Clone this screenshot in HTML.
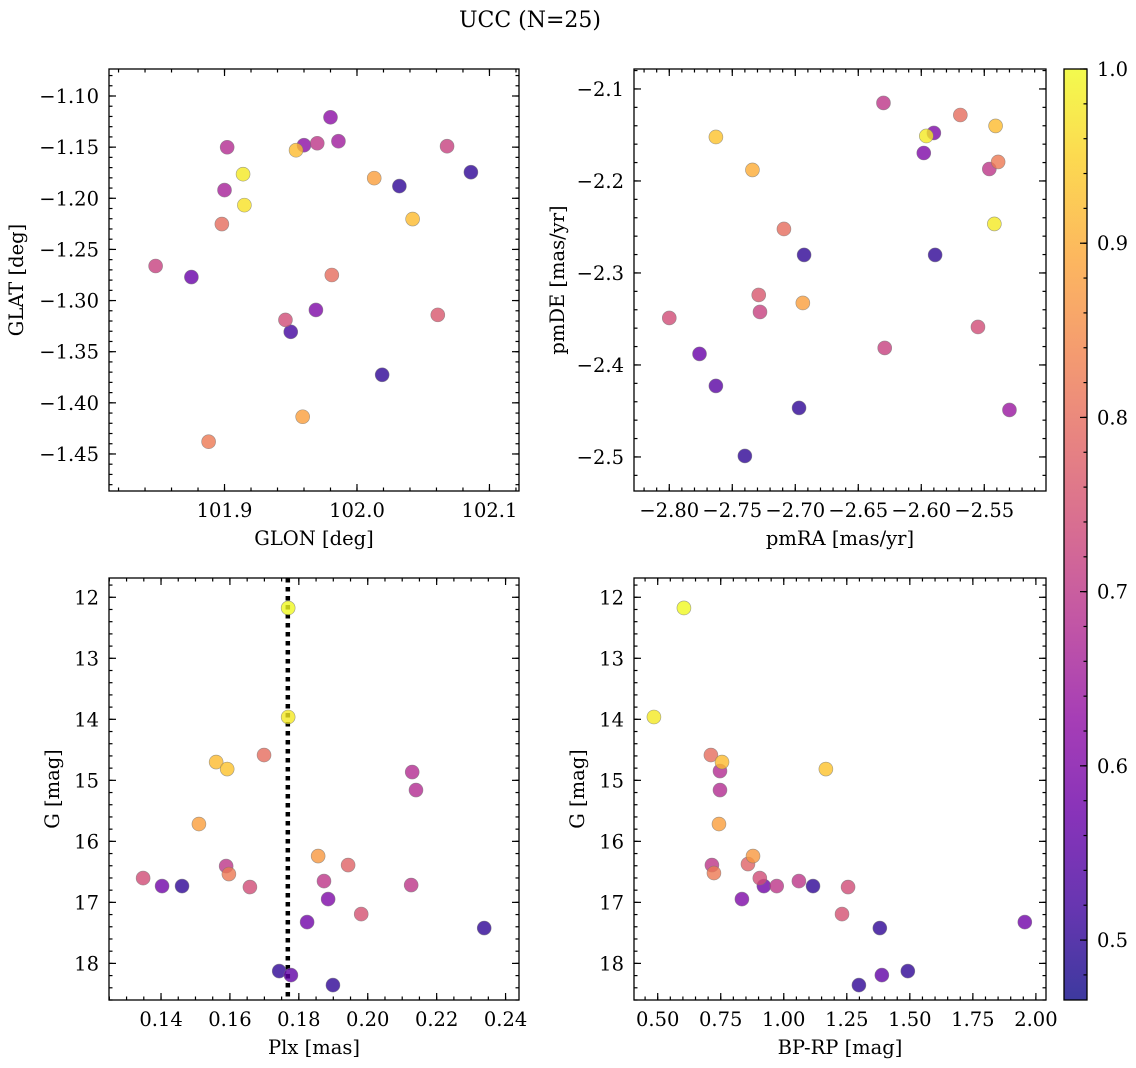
<!DOCTYPE html>
<html><head><meta charset="utf-8">
<style>
html,body{margin:0;padding:0;background:#fff;}
svg{display:block;font-family:"DejaVu Serif","Liberation Serif",serif;}
</style></head>
<body>
<svg id="fig" width="1136" height="1068" viewBox="0 0 1136 1068" xmlns="http://www.w3.org/2000/svg">
<text x="530" y="27" font-size="22" text-anchor="middle">UCC (N=25)</text>
</svg>
<script>
// ---- data ----
const glon = [101.980,101.960,101.954,101.970,101.986,101.902,102.068,101.914,101.900,101.915,102.013,102.032,102.086,101.898,102.042,101.848,101.875,101.981,101.946,101.969,101.950,102.061,102.019,101.959,101.888];
const glat = [-1.1208,-1.1481,-1.1530,-1.1462,-1.1442,-1.1501,-1.1491,-1.1764,-1.1920,-1.2067,-1.1803,-1.1881,-1.1745,-1.2252,-1.2203,-1.2662,-1.2770,-1.2750,-1.3189,-1.3092,-1.3306,-1.3140,-1.3726,-1.4136,-1.4380];
const probPos = [0.62,0.62,0.92,0.70,0.65,0.68,0.72,0.98,0.66,0.97,0.88,0.50,0.50,0.80,0.92,0.72,0.57,0.80,0.74,0.60,0.52,0.76,0.50,0.88,0.82];

const pmra = [-2.630,-2.763,-2.596,-2.590,-2.569,-2.541,-2.539,-2.598,-2.546,-2.734,-2.542,-2.709,-2.693,-2.589,-2.729,-2.694,-2.728,-2.800,-2.555,-2.629,-2.776,-2.763,-2.697,-2.530,-2.740];
const pmde = [-2.1152,-2.1522,-2.1511,-2.1478,-2.1283,-2.1402,-2.1793,-2.1696,-2.1870,-2.1880,-2.2467,-2.2522,-2.2804,-2.2804,-2.3239,-2.3326,-2.3424,-2.3489,-2.3587,-2.3815,-2.3880,-2.4228,-2.4467,-2.4489,-2.4989];
const probPm = [0.70,0.93,0.98,0.60,0.80,0.92,0.82,0.60,0.70,0.90,0.98,0.80,0.50,0.50,0.76,0.88,0.72,0.74,0.74,0.72,0.57,0.55,0.50,0.64,0.50];

const plx = [0.1769,0.1769,0.1560,0.1592,0.1699,0.2129,0.2140,0.1510,0.1856,0.1943,0.1589,0.1597,0.1873,0.1348,0.1403,0.1461,0.1658,0.2126,0.1885,0.1981,0.1824,0.2338,0.1743,0.1777,0.1899];
const gPlx = [12.175,13.962,14.700,14.815,14.585,14.864,15.159,15.716,16.241,16.388,16.405,16.536,16.651,16.602,16.733,16.733,16.749,16.716,16.946,17.192,17.323,17.421,18.126,18.192,18.356];
const probPlx = [1.00,0.98,0.92,0.93,0.80,0.68,0.68,0.88,0.87,0.78,0.70,0.82,0.70,0.74,0.58,0.50,0.74,0.70,0.60,0.75,0.58,0.50,0.50,0.56,0.50];
const plxRef = 0.1768;

const bprp = [0.604,0.485,0.711,0.755,0.747,1.167,0.747,0.743,0.715,0.878,0.858,0.723,0.905,0.921,0.972,1.060,1.116,1.255,0.834,1.231,1.956,1.381,1.492,1.389,1.298];
const gCmd = [12.175,13.962,14.585,14.700,14.848,14.815,15.159,15.716,16.388,16.241,16.372,16.519,16.602,16.733,16.733,16.651,16.733,16.749,16.946,17.192,17.323,17.421,18.126,18.192,18.356];
const probCmd = [1.00,0.98,0.80,0.92,0.68,0.93,0.68,0.88,0.70,0.87,0.78,0.82,0.74,0.58,0.70,0.70,0.50,0.74,0.60,0.75,0.58,0.50,0.50,0.56,0.50];

const cbTicks = [0.5,0.6,0.7,0.8,0.9,1.0];
const vmin = 0.4656, vmax = 1.0;

// ---- helpers ----
const NS = "http://www.w3.org/2000/svg";
const svg = document.getElementById('fig');
const FS = 19.5;
function mk(tag, attrs, parent){ const e=document.createElementNS(NS,tag); for(const k in attrs) e.setAttribute(k,attrs[k]); (parent||svg).appendChild(e); return e; }
const stops=[[13,8,135],[65,4,157],[106,0,168],[143,13,164],[177,42,144],[204,71,120],[225,100,98],[242,132,75],[252,166,54],[252,206,37],[240,249,33]];
function plasma(t){ t=Math.max(0,Math.min(1,t)); const s=t*10, i=Math.min(9,Math.floor(s)), f=s-i; const a=stops[i], b=stops[i+1]; return 'rgb('+a.map((v,k)=>Math.round(v+(b[k]-v)*f)).join(',')+')'; }
function col(p){ return plasma((p-vmin)/(vmax-vmin)); }
function fmt(v,d){ const s=Math.abs(v).toFixed(d); return (v<-1e-9?'\u2212':'')+s; }

function panel(cfg){
  const {name,x0,y0,w,h,xmin,xmax,ymin,ymax,yinv,xmaj,xmin_step,ymaj,ymin_step,xdec,ydec,xlabel,ylabel,xs,ys,ps,ylabx} = cfg;
  const g = mk('g',{});
  
  
  const sx = v => x0 + (v-xmin)/(xmax-xmin)*w;
  const sy = v => yinv ? y0 + (v-ymin)/(ymax-ymin)*h : y0 + h - (v-ymin)/(ymax-ymin)*h;
  const tg = mk('g',{stroke:'#000','stroke-width':1.2},g);
  
  
  function ticks(lo,hi,step,len,axis,labels,dec){
    const n0=Math.ceil(lo/step-1e-6), n1=Math.floor(hi/step+1e-6);
    for(let n=n0;n<=n1;n++){
      const v=n*step;
      if(axis==='x'){ const X=sx(v);
        mk('line',{x1:X,y1:y0+h,x2:X,y2:y0+h-len},tg); mk('line',{x1:X,y1:y0,x2:X,y2:y0+len},tg);
        if(labels){ const t=mk('text',{x:X,y:y0+h+26,'font-size':FS,'text-anchor':'middle',stroke:'none'},g); t.textContent=fmt(v,dec);
          
           }
      } else { const Y=sy(v);
        mk('line',{x1:x0,y1:Y,x2:x0+len,y2:Y},tg); mk('line',{x1:x0+w,y1:Y,x2:x0+w-len,y2:Y},tg);
        if(labels){ const t=mk('text',{x:x0-10,y:Y+7,'font-size':FS,'text-anchor':'end',stroke:'none'},g); t.textContent=fmt(v,dec);
          
           }
      }
    }
  }
  const xl=Math.min(xmin,xmax), xh=Math.max(xmin,xmax), yl=Math.min(ymin,ymax), yh=Math.max(ymin,ymax);
  ticks(xl,xh,xmin_step,3.5,'x',false);
  ticks(xl,xh,xmaj,7,'x',true,xdec);
  ticks(yl,yh,ymin_step,3.5,'y',false);
  ticks(yl,yh,ymaj,7,'y',true,ydec);
  if(cfg.vline!==undefined){
    const l=mk('line',{x1:sx(cfg.vline),y1:y0,x2:sx(cfg.vline),y2:y0+h,stroke:'#000','stroke-width':4.5,'stroke-dasharray':'4.5,4.5'},g);
    
    
  }
  const idx=ps.map((p,i)=>i).sort((a,b)=>ps[a]-ps[b]);
  idx.forEach(i=>{
    const c=mk('circle',{cx:sx(xs[i]),cy:sy(ys[i]),r:7,fill:col(ps[i]),'fill-opacity':0.8,stroke:'#777','stroke-opacity':0.7,'stroke-width':0.6},g);
    
    
  });
  const fr=mk('rect',{x:x0,y:y0,width:w,height:h,fill:'none',stroke:'#000','stroke-width':1.3},g);
  
  
  const xt=mk('text',{x:x0+w/2,y:y0+h+54,'font-size':FS,'text-anchor':'middle'},g); xt.textContent=xlabel;
  
  
  const yt=mk('text',{x:0,y:0,'font-size':FS,'text-anchor':'middle',transform:'translate('+ylabx+','+(y0+h/2)+') rotate(-90)'},g); yt.textContent=ylabel;
  
  
}

panel({name:'position-panel',x0:109,y0:69,w:410,h:422,xmin:101.8128,xmax:102.1223,ymin:-1.4862,ymax:-1.0736,yinv:false,xmaj:0.1,xmin_step:0.02,ymaj:0.05,ymin_step:0.01,xdec:1,ydec:2,xlabel:'GLON [deg]',ylabel:'GLAT [deg]',xs:glon,ys:glat,ps:probPos,ylabx:23});
panel({name:'proper-motion-panel',x0:634,y0:69,w:412,h:422,xmin:-2.828,xmax:-2.501,ymin:-2.537,ymax:-2.0783,yinv:false,xmaj:0.05,xmin_step:0.01,ymaj:0.1,ymin_step:0.02,xdec:2,ydec:1,xlabel:'pmRA [mas/yr]',ylabel:'pmDE [mas/yr]',xs:pmra,ys:pmde,ps:probPm,ylabx:564});
panel({name:'parallax-panel',x0:109,y0:578,w:410,h:422,xmin:0.1249,xmax:0.2439,ymin:11.684,ymax:18.60,yinv:true,xmaj:0.02,xmin_step:0.005,ymaj:1,ymin_step:0.2,xdec:2,ydec:0,xlabel:'Plx [mas]',ylabel:'G [mag]',xs:plx,ys:gPlx,ps:probPlx,ylabx:59,vline:plxRef});
panel({name:'cmd-panel',x0:634,y0:578,w:412,h:422,xmin:0.406,xmax:2.04,ymin:11.684,ymax:18.60,yinv:true,xmaj:0.25,xmin_step:0.05,ymaj:1,ymin_step:0.2,xdec:2,ydec:0,xlabel:'BP-RP [mag]',ylabel:'G [mag]',xs:bprp,ys:gCmd,ps:probCmd,ylabx:584});

// colorbar
(function(){
  const cx=1064, cy=69, cw=23, ch=931;
  const cg=mk('g',{});
  
  
  const defs=mk('defs',{},cg);
  const lg=mk('linearGradient',{id:'cbg',x1:0,y1:1,x2:0,y2:0},defs);
  for(let k=0;k<=20;k++){ mk('stop',{offset:k/20,'stop-color':plasma(k/20)},lg); }
  const r=mk('rect',{x:cx,y:cy,width:cw,height:ch,fill:'url(#cbg)','fill-opacity':0.8},cg);
  
  
  const sy=v=>cy+ch-(v-vmin)/(vmax-vmin)*ch;
  for(let n=24;n<=50;n++){ const v=n*0.02; if(v<vmin||v>vmax+1e-9) continue; const Y=sy(v);
    mk('line',{x1:cx+cw,y1:Y,x2:cx+cw-3.5,y2:Y,stroke:'#000','stroke-width':1.2},cg); }
  cbTicks.forEach(v=>{ const Y=sy(v);
    mk('line',{x1:cx+cw,y1:Y,x2:cx+cw-7,y2:Y,stroke:'#000','stroke-width':1.2},cg);
    const t=mk('text',{x:cx+cw+10,y:Y+7,'font-size':FS},cg); t.textContent=v.toFixed(1);
    
    
  });
  mk('rect',{x:cx,y:cy,width:cw,height:ch,fill:'none',stroke:'#000','stroke-width':1.3},cg);
})();
</script>
</body></html>
